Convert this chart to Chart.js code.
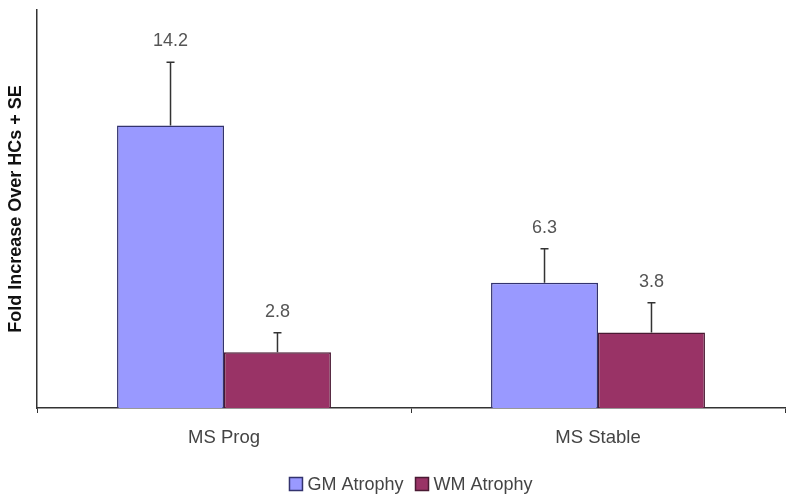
<!DOCTYPE html>
<html>
<head>
<meta charset="utf-8">
<script src="https://cdn.jsdelivr.net/npm/chart.js@4.4.1/dist/chart.umd.min.js"></script>
<style>
  html, body { margin: 0; padding: 0; background: #fff; }
  #wrap { width: 800px; height: 502px; position: relative; }
</style>
</head>
<body>
<div id="wrap"><canvas id="c"></canvas></div>
<script>
// Values
const categories = ['MS Prog', 'MS Stable'];
const gmValues = [14.2, 6.3];
const wmValues = [2.8, 3.8];
const gmSE = [3.17, 1.7];
const wmSE = [0.98, 1.49];
const yMax = 20;

const FONT = 'Arial, "Liberation Sans", sans-serif';

/* Error bars (+SE only) and value labels above the caps */
const errorBarPlugin = {
  id: 'errorBars',
  afterDatasetsDraw(chart) {
    const ctx = chart.ctx;
    const yScale = chart.scales.y;
    chart.data.datasets.forEach((ds, di) => {
      const meta = chart.getDatasetMeta(di);
      meta.data.forEach((bar, i) => {
        const v = ds.data[i];
        const top = yScale.getPixelForValue(v + ds.se[i]);
        ctx.save();
        ctx.strokeStyle = '#333';
        ctx.lineWidth = 1.5;
        ctx.beginPath();
        ctx.moveTo(bar.x, bar.y);
        ctx.lineTo(bar.x, top);
        ctx.moveTo(bar.x - 4, top);
        ctx.lineTo(bar.x + 4, top);
        ctx.stroke();
        ctx.fillStyle = '#555';
        ctx.font = '18px ' + FONT;
        ctx.textAlign = 'center';
        ctx.textBaseline = 'middle';
        ctx.fillText(v.toFixed(1), bar.x, top - 21);
        ctx.restore();
      });
    });
  }
};

/* Legend centred under the plot area, like the original */
const centeredLegend = {
  id: 'centeredLegend',
  afterDraw(chart) {
    const ctx = chart.ctx;
    const area = chart.chartArea;
    const box = 13, gapText = 5, gapItem = 12, y = 484;
    ctx.save();
    ctx.font = '18px ' + FONT;
    const items = chart.data.datasets.map(ds => ({ ds, w: ctx.measureText(ds.label).width }));
    const total = items.reduce((s, it) => s + box + gapText + it.w, 0) + gapItem * (items.length - 1);
    let x = (area.left + area.right) / 2 - total / 2;
    items.forEach(({ ds, w }) => {
      ctx.fillStyle = ds.backgroundColor;
      ctx.fillRect(x, y - box / 2, box, box);
      ctx.strokeStyle = ds.borderColor;
      ctx.lineWidth = 1.5;
      ctx.strokeRect(x, y - box / 2, box, box);
      ctx.fillStyle = '#444';
      ctx.textAlign = 'left';
      ctx.textBaseline = 'middle';
      ctx.fillText(ds.label, x + box + gapText, y + 1);
      x += box + gapText + w + gapItem;
    });
    ctx.restore();
  }
};

new Chart(document.getElementById('c'), {
  type: 'bar',
  data: {
    labels: categories,
    datasets: [
      {
        label: 'GM Atrophy',
        data: gmValues,
        se: gmSE,
        backgroundColor: '#9999ff',
        borderColor: '#33336e',
        borderWidth: 1.5,
        borderSkipped: 'bottom'
      },
      {
        label: 'WM Atrophy',
        data: wmValues,
        se: wmSE,
        backgroundColor: '#993366',
        borderColor: '#4a1a33',
        borderWidth: 1.5,
        borderSkipped: 'bottom'
      }
    ]
  },
  options: {
    responsive: true,
    maintainAspectRatio: false,
    animation: false,
    layout: { padding: { top: 10, right: 15, left: 0, bottom: 42 } },
    plugins: {
      legend: { display: false },
      tooltip: { enabled: false }
    },
    datasets: {
      bar: { categoryPercentage: 0.572, barPercentage: 1.0 }
    },
    scales: {
      x: {
        grid: { display: true, offset: true, drawOnChartArea: false, drawTicks: true, tickLength: 5, color: '#333' },
        border: { display: true, color: '#333', width: 1.5 },
        ticks: { color: '#444', font: { size: 18.5, family: FONT }, padding: 14 },
        afterFit(scale) { scale.height = 52; }
      },
      y: {
        min: 0,
        max: yMax,
        grid: { display: false },
        border: { display: true, color: '#333', width: 1.5 },
        ticks: { display: false },
        title: {
          display: true,
          text: 'Fold Increase Over HCs + SE',
          color: '#111',
          font: { size: 18, weight: 'bold', family: FONT },
          padding: { top: 5, bottom: 0 }
        },
        afterFit(scale) { scale.width = 37; }
      }
    }
  },
  plugins: [errorBarPlugin, centeredLegend]
});
</script>
</body>
</html>
